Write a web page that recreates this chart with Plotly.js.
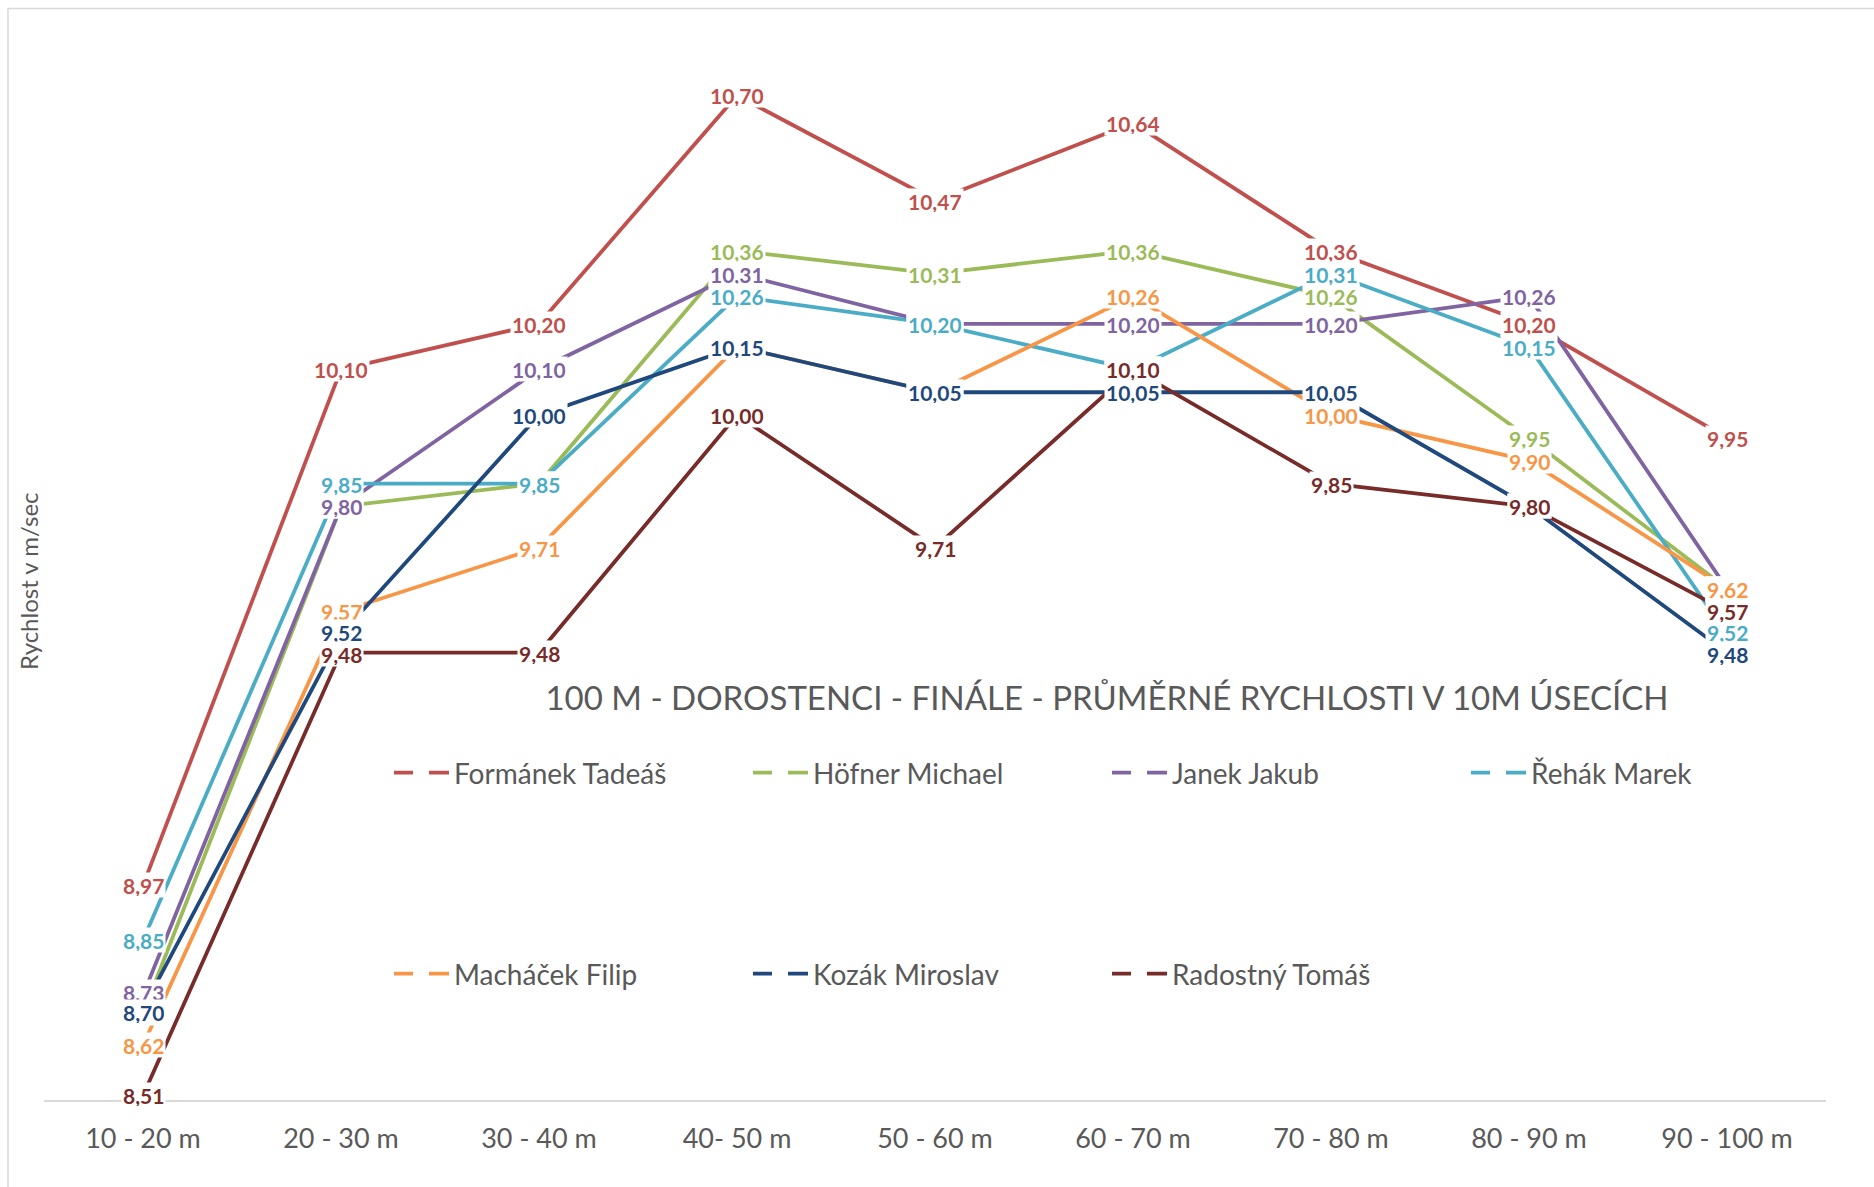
<!DOCTYPE html>
<html>
<head>
<meta charset="utf-8">
<script src="https://cdn.plot.ly/plotly-3.0.1.min.js"></script>
<style>
  html, body { margin: 0; padding: 0; background: #ffffff; overflow: hidden; }
  #chart { width: 1874px; height: 1187px; }
</style>
</head>
<body>
<div id="chart"></div>
<script>
// ---- data ----
var categories = ["10 - 20 m", "20 - 30 m", "30 - 40 m", "40- 50 m", "50 - 60 m", "60 - 70 m", "70 - 80 m", "80 - 90 m", "90 - 100 m"];

var seriesNames = ["Formánek Tadeáš", "Höfner Michael", "Janek Jakub", "Řehák Marek", "Macháček Filip", "Kozák Miroslav", "Radostný Tomáš"];

var formanek = [8.97, 10.10, 10.20, 10.70, 10.47, 10.64, 10.36, 10.20, 9.95];
var hofner   = [8.69, 9.80, 9.85, 10.36, 10.31, 10.36, 10.26, 9.95, 9.62];
var janek    = [8.73, 9.80, 10.10, 10.31, 10.20, 10.20, 10.20, 10.26, 9.62];
var rehak    = [8.85, 9.85, 9.85, 10.26, 10.20, 10.10, 10.31, 10.15, 9.52];
var machacek = [8.62, 9.57, 9.71, 10.15, 10.05, 10.26, 10.00, 9.90, 9.62];
var kozak    = [8.70, 9.52, 10.00, 10.15, 10.05, 10.05, 10.05, 9.80, 9.48];
var radostny = [8.51, 9.48, 9.48, 10.00, 9.71, 10.10, 9.85, 9.80, 9.57];

var seriesValues = [formanek, hofner, janek, rehak, machacek, kozak, radostny];
var seriesColors = ["#C0504D", "#9BBB59", "#8064A2", "#4BACC6", "#F79646", "#1F497D", "#772C2A"];

// ---- geometry / style (pixels) ----
var W = 1874, H = 1187;
var M = { l: 44, r: 48, t: 30, b: 87 };
var FONT = "Lato, 'Open Sans', sans-serif";
var GRAY = "#595959";
var plotH = H - M.t - M.b, plotW = W - M.l - M.r;
function px2paperX(px) { return (px - M.l) / plotW; }
function px2paperY(py) { return (H - M.b - py) / plotH; }
// small label nudges "series,point" -> pixel shift, like the hand-placed labels of the original
var labelNudge = { "2,0": 3, "5,0": -3, "5,1": 2, "6,1": -1, "3,8": 2, "5,8": -1 };

function fmt(v) { return v.toFixed(2).replace(".", ","); }

var traces = [];
seriesValues.forEach(function (vals, i) {
  traces.push({
    type: "scatter",
    mode: "lines",
    x: categories,
    y: vals,
    name: seriesNames[i],
    line: { color: seriesColors[i], width: 3.8 },
    showlegend: false,
    hoverinfo: "x+y+name"
  });
});
// legend-only entries with the dashed key look
seriesNames.forEach(function (n, i) {
  traces.push({
    type: "scatter",
    mode: "lines",
    x: [null],
    y: [null],
    name: n,
    line: { color: seriesColors[i], width: 3.8, dash: "19px,16px,20px" },
    showlegend: true,
    legend: i < 4 ? "legend" : "legend2",
    hoverinfo: "skip"
  });
});

var annotations = [];
seriesValues.forEach(function (vals, i) {
  vals.forEach(function (v, j) {
    annotations.push({
      x: categories[j],
      y: v,
      xref: "x",
      yref: "y",
      text: fmt(v),
      showarrow: false,
      font: { family: FONT, size: 21, color: seriesColors[i], weight: 700 },
      bgcolor: "#ffffff",
      borderpad: 1,
      height: 22,
      valign: "middle",
      xanchor: "center",
      yanchor: "middle",
      yshift: labelNudge[i + "," + j] || 0
    });
  });
});

// y-axis title (rotated)
annotations.push({
  xref: "paper", yref: "paper",
  x: px2paperX(28),
  y: px2paperY(581),
  text: "Rychlost v m/sec",
  textangle: -90,
  showarrow: false,
  xanchor: "center", yanchor: "middle",
  font: { family: FONT, size: 24, color: GRAY }
});

function legendBox(rowY) {
  return {
    orientation: "h",
    xref: "paper", yref: "paper",
    x: px2paperX(389), xanchor: "left",
    y: px2paperY(rowY), yanchor: "middle",
    entrywidth: 289,
    entrywidthmode: "pixels",
    itemwidth: 55,
    font: { family: FONT, size: 28, color: GRAY },
    bgcolor: "rgba(0,0,0,0)"
  };
}

var layout = {
  width: W,
  height: H,
  margin: M,
  paper_bgcolor: "#ffffff",
  plot_bgcolor: "#ffffff",
  showlegend: true,
  title: {
    text: "100 M - DOROSTENCI - FINÁLE - PRŮMĚRNÉ RYCHLOSTI V 10M ÚSECÍCH",
    font: { family: FONT, size: 33, color: GRAY },
    xref: "container", yref: "container",
    x: 1107 / W, xanchor: "center",
    y: 1 - 698 / H, yanchor: "middle"
  },
  xaxis: {
    type: "category",
    range: [-0.5, 8.5],
    showgrid: false,
    zeroline: false,
    showline: true,
    linecolor: "#d9d9d9",
    linewidth: 1.5,
    ticks: "",
    ticklabelstandoff: 14,
    tickfont: { family: FONT, size: 27, color: GRAY },
    fixedrange: true
  },
  yaxis: {
    range: [8.5, 10.8434],
    showgrid: false,
    zeroline: false,
    showline: false,
    showticklabels: false,
    ticks: "",
    fixedrange: true
  },
  legend: legendBox(773),
  legend2: legendBox(974),
  shapes: [
    {
      type: "rect", xref: "paper", yref: "paper",
      x0: px2paperX(8), x1: 1.2,
      y0: px2paperY(8.5), y1: -0.3,
      line: { color: "#d9d9d9", width: 1.5 },
      fillcolor: "rgba(0,0,0,0)",
      layer: "below"
    }
  ],
  annotations: annotations
};

Plotly.newPlot("chart", traces, layout, { displayModeBar: false, staticPlot: true });
</script>
</body>
</html>
